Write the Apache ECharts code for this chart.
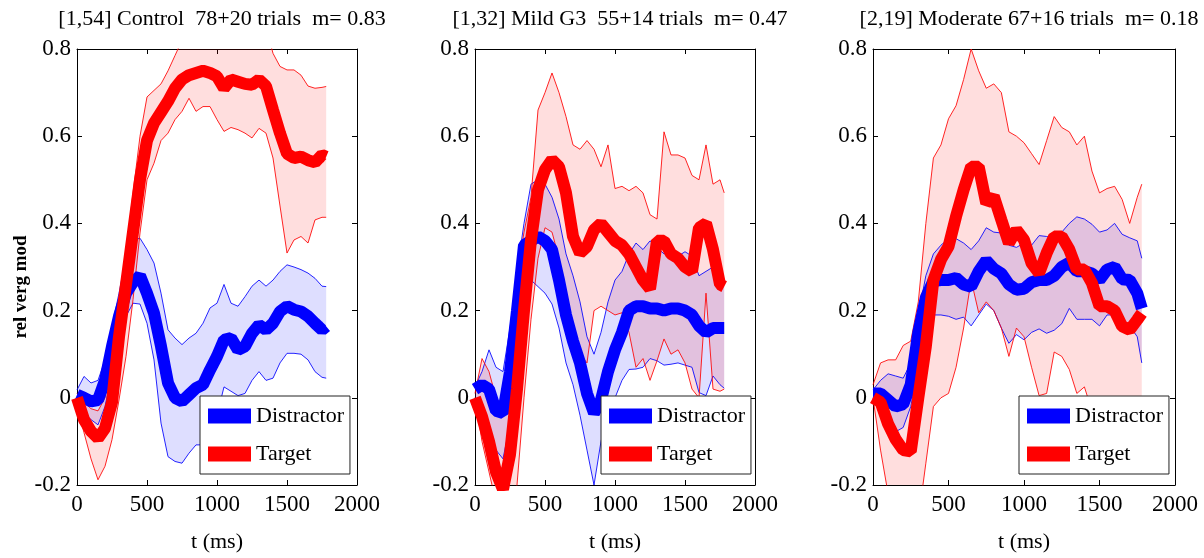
<!DOCTYPE html>
<html><head><meta charset="utf-8">
<script src="https://cdn.jsdelivr.net/npm/echarts@6/dist/echarts.min.js"></script>
<style>html,body{margin:0;padding:0;background:#fff}#c{width:1204px;height:558px}</style>
</head><body><div id="c"></div>
<script>
// ---- data ----
const times = [0,50,100,150,200,250,300,350,400,450,500,550,600,650,700,750,800,850,900,950,1000,1050,1100,1150,1200,1250,1300,1350,1400,1450,1500,1550,1600,1650,1700,1750,1780];
const xTicks = [0,500,1000,1500,2000];
const yTicks = [-0.2,0,0.2,0.4,0.6,0.8];
const titles = ['[1,54] Control  78+20 trials  m= 0.83','[1,32] Mild G3  55+14 trials  m= 0.47','[2,19] Moderate 67+16 trials  m= 0.18'];
const legendNames = ['Distractor','Target'];

// Control
const ctrlDisMean = [0.007,0,-0.008,-0.005,0.04,0.118,0.187,0.24,0.265,0.28,0.24,0.194,0.118,0.034,0,-0.008,0.007,0.022,0.03,0.064,0.095,0.133,0.137,0.11,0.118,0.148,0.167,0.156,0.171,0.198,0.21,0.202,0.198,0.187,0.171,0.156,0.164];
const ctrlDisHi = [0.018,0.049,0.034,0.04,0.087,0.164,0.24,0.324,0.362,0.366,0.34,0.309,0.24,0.156,0.137,0.122,0.137,0.148,0.171,0.206,0.217,0.26,0.217,0.21,0.232,0.256,0.27,0.256,0.27,0.29,0.305,0.3,0.294,0.286,0.274,0.256,0.255];
const ctrlDisLo = [-0.005,-0.035,-0.05,-0.062,-0.02,0.057,0.133,0.187,0.217,0.215,0.171,0.087,-0.058,-0.135,-0.146,-0.15,-0.127,-0.108,-0.108,-0.085,-0.04,0.025,0.015,0.005,0.01,0.04,0.06,0.04,0.045,0.08,0.102,0.102,0.1,0.087,0.06,0.047,0.045];
const ctrlTgtMean = [0,-0.05,-0.077,-0.093,-0.07,-0.01,0.14,0.26,0.38,0.5,0.59,0.63,0.655,0.68,0.71,0.73,0.74,0.745,0.75,0.745,0.737,0.71,0.73,0.725,0.72,0.718,0.73,0.715,0.66,0.607,0.56,0.55,0.553,0.545,0.54,0.557,0.553];
const ctrlTgtHi = [0.01,-0.01,-0.025,-0.03,0,0.1,0.2,0.33,0.47,0.6,0.69,0.705,0.72,0.75,0.785,0.82,0.84,0.85,0.85,0.85,0.85,0.85,0.85,0.85,0.85,0.85,0.85,0.85,0.79,0.76,0.752,0.752,0.74,0.715,0.71,0.712,0.714];
const ctrlTgtLo = [-0.02,-0.08,-0.14,-0.188,-0.157,-0.096,-0.005,0.095,0.225,0.378,0.5,0.538,0.59,0.607,0.638,0.657,0.687,0.657,0.668,0.668,0.638,0.611,0.62,0.615,0.607,0.596,0.618,0.607,0.55,0.44,0.332,0.362,0.37,0.355,0.408,0.414,0.414];

// Mild G3
const mildDisMean = [0.02,0.03,0.02,-0.03,-0.035,0.06,0.2,0.35,0.36,0.37,0.36,0.34,0.27,0.19,0.13,0.08,0.01,-0.035,-0.005,0.06,0.11,0.15,0.2,0.21,0.21,0.205,0.205,0.2,0.205,0.205,0.2,0.19,0.165,0.15,0.16,0.16,0.16];
const mildDisHi = [0.025,0.06,0.11,0.07,0.06,0.16,0.29,0.4,0.49,0.5,0.49,0.46,0.41,0.33,0.28,0.22,0.14,0.1,0.15,0.22,0.27,0.29,0.33,0.355,0.34,0.36,0.345,0.33,0.335,0.325,0.335,0.325,0.28,0.29,0.3,0.27,0.27];
const mildDisLo = [0,-0.03,-0.07,-0.12,-0.14,-0.06,0.06,0.19,0.27,0.255,0.24,0.215,0.16,0.08,0.03,-0.04,-0.12,-0.2,-0.1,-0.035,0,0.04,0.065,0.066,0.07,0.09,0.085,0.075,0.077,0.08,0.075,0.07,0.012,0.005,0.05,0.03,0.022];
const mildTgtMean = [0,-0.043,-0.1,-0.17,-0.21,-0.13,0.02,0.2,0.362,0.477,0.523,0.546,0.53,0.47,0.37,0.332,0.347,0.385,0.4,0.38,0.36,0.35,0.33,0.3,0.27,0.25,0.36,0.36,0.33,0.32,0.3,0.29,0.39,0.4,0.34,0.26,0.255];
const mildTgtHi = [0.01,0.09,0.06,0,-0.02,0.13,0.28,0.38,0.46,0.66,0.7,0.745,0.7,0.645,0.58,0.57,0.59,0.57,0.53,0.58,0.48,0.485,0.475,0.485,0.47,0.42,0.41,0.61,0.557,0.557,0.55,0.51,0.5,0.58,0.49,0.5,0.47];
const mildTgtLo = [0,-0.1,-0.17,-0.24,-0.28,-0.26,-0.2,0,0.18,0.32,0.39,0.38,0.32,0.21,0.16,0.1,0.08,0.2,0.21,0.2,0.19,0.195,0.15,0.07,0.09,0.04,0.085,0.135,0.1,0.11,0.08,0.02,0,0.24,0.02,0.015,0.02];

// Moderate
const modDisMean = [0.01,0.01,-0.005,-0.02,-0.015,0.03,0.15,0.23,0.268,0.27,0.27,0.275,0.26,0.255,0.29,0.315,0.296,0.285,0.26,0.248,0.25,0.265,0.27,0.27,0.28,0.3,0.31,0.29,0.29,0.285,0.27,0.294,0.3,0.272,0.27,0.24,0.205];
const modDisHi = [0.018,0.04,0.055,0.05,0.045,0.08,0.19,0.28,0.33,0.35,0.365,0.365,0.355,0.34,0.36,0.39,0.38,0.378,0.35,0.345,0.355,0.35,0.372,0.37,0.366,0.38,0.4,0.415,0.41,0.398,0.38,0.385,0.4,0.375,0.367,0.36,0.32];
const modDisLo = [0,-0.03,-0.058,-0.078,-0.068,-0.02,0.07,0.15,0.19,0.19,0.187,0.18,0.185,0.165,0.19,0.215,0.2,0.16,0.125,0.145,0.133,0.15,0.158,0.148,0.155,0.17,0.205,0.18,0.18,0.18,0.165,0.19,0.19,0.17,0.165,0.14,0.08];
const modTgtMean = [0,-0.01,-0.06,-0.095,-0.12,-0.123,0,0.118,0.27,0.317,0.347,0.416,0.477,0.53,0.53,0.446,0.462,0.408,0.355,0.385,0.362,0.309,0.286,0.332,0.37,0.37,0.34,0.294,0.294,0.263,0.21,0.21,0.2,0.164,0.156,0.179,0.194];
const modTgtHi = [0.03,0.08,0.087,0.087,0.12,0.13,0.22,0.4,0.55,0.58,0.64,0.67,0.73,0.8,0.75,0.71,0.72,0.7,0.61,0.6,0.585,0.56,0.535,0.59,0.645,0.62,0.61,0.58,0.6,0.52,0.47,0.48,0.485,0.455,0.4,0.46,0.49];
const modTgtLo = [0,-0.12,-0.22,-0.28,-0.3,-0.3,-0.28,-0.15,-0.02,0,0.01,0.07,0.16,0.27,0.195,0.22,0.2,0.16,0.095,0.16,0.14,0.07,0.005,0.01,0.105,0.095,0.065,0.01,0.025,-0.03,-0.06,-0.08,-0.1,-0.1,-0.1,-0.1,-0.1];

// ---- layout / style ----
const grids = [
  {left:77, top:49, width:280, height:436},
  {left:475, top:49, width:280, height:436},
  {left:873, top:49, width:302, height:436}
];
const legendLefts = [200, 601, 1019];
const FONT = 'Liberation Serif';
const BLUE = '#0000ff', RED = '#ff0000';
const BLUE_FILL = 'rgba(0,0,255,0.13)', RED_FILL = 'rgba(255,0,0,0.13)';

const panelData = [
  {dis:[ctrlDisMean,ctrlDisHi,ctrlDisLo], tgt:[ctrlTgtMean,ctrlTgtHi,ctrlTgtLo]},
  {dis:[mildDisMean,mildDisHi,mildDisLo], tgt:[mildTgtMean,mildTgtHi,mildTgtLo]},
  {dis:[modDisMean,modDisHi,modDisLo], tgt:[modTgtMean,modTgtHi,modTgtLo]}
];

const pair = arr => times.map((t,k) => [t, arr[k]]);

const xAxis = [], yAxis = [], series = [];
grids.forEach((g, i) => {
  const common = {gridIndex:i, type:'value', splitLine:{show:false}, axisLine:{show:true, onZero:false, lineStyle:{color:'#000', width:1}}, axisTick:{show:true, inside:true, length:5, lineStyle:{color:'#000'}}};
  xAxis.push(Object.assign({}, common, {position:'bottom', min:xTicks[0], max:xTicks[xTicks.length-1], interval:xTicks[1]-xTicks[0],
    axisLabel:{color:'#000', fontFamily:FONT, fontSize:23, margin:8, showMinLabel:true, showMaxLabel:true, formatter: v => String(v)},
    name:'t (ms)', nameLocation:'middle', nameGap:46, nameTextStyle:{color:'#000', fontFamily:FONT, fontSize:22}}));
  xAxis.push(Object.assign({}, common, {position:'top', min:xTicks[0], max:xTicks[xTicks.length-1], interval:xTicks[1]-xTicks[0], axisLabel:{show:false}}));
  const yl = Object.assign({}, common, {position:'left', min:yTicks[0], max:yTicks[yTicks.length-1], interval:0.2,
    axisLabel:{color:'#000', fontFamily:FONT, fontSize:23, margin:6, showMinLabel:true, showMaxLabel:true,
      formatter: v => Math.abs(v) < 1e-9 ? '0' : (+v).toFixed(1)}});
  if (i === 0) Object.assign(yl, {name:'rel verg mod', nameLocation:'middle', nameRotate:90, nameGap:45,
    nameTextStyle:{color:'#000', fontFamily:FONT, fontSize:19, fontWeight:'bold', padding:[0,40,0,0]}});
  yAxis.push(yl);
  yAxis.push(Object.assign({}, common, {position:'right', min:yTicks[0], max:yTicks[yTicks.length-1], interval:0.2, axisLabel:{show:false}}));

  const xi = i*2, yi = i*2;
  const band = (key, hi, lo, color, fill) => {
    // filled band between lower and upper bounds, drawn through the axis scales
    series.push({type:'custom', name:key+' band '+i, xAxisIndex:xi, yAxisIndex:yi, clip:true, silent:true, z:1,
      data: times.map((t,k) => [t, lo[k], hi[k]]),
      encode:{x:0, y:[1,2]},
      renderItem: (params, api) => {
        if (params.dataIndex !== 0) return null;
        const up = [], dn = [];
        for (let k = 0; k < times.length; k++) {
          up.push(api.coord([times[k], hi[k]]));
          dn.push(api.coord([times[k], lo[k]]));
        }
        const pts = up.concat(dn.reverse());
        const cs = params.coordSys;
        return {type:'polygon', shape:{points:pts}, style:{fill:fill, stroke:null},
          clipPath:{type:'rect', shape:{x:cs.x, y:cs.y, width:cs.width, height:cs.height}}};
      }});
    series.push({type:'line', name:key+' upper '+i, xAxisIndex:xi, yAxisIndex:yi, data:pair(hi),
      symbol:'none', showSymbol:false, lineStyle:{color:color, width:1, opacity:0.85}, silent:true, z:2});
    series.push({type:'line', name:key+' lower '+i, xAxisIndex:xi, yAxisIndex:yi, data:pair(lo),
      symbol:'none', showSymbol:false, lineStyle:{color:color, width:1, opacity:0.85}, silent:true, z:2});
  };
  const d = panelData[i];
  band('dis', d.dis[1], d.dis[2], BLUE, BLUE_FILL);
  band('tgt', d.tgt[1], d.tgt[2], RED, RED_FILL);
  series.push({type:'line', name:legendNames[0], xAxisIndex:xi, yAxisIndex:yi, data:pair(d.dis[0]), symbol:'none', showSymbol:false,
    lineStyle:{color:BLUE, width:12}, itemStyle:{color:BLUE}, z:3});
  series.push({type:'line', name:legendNames[1], xAxisIndex:xi, yAxisIndex:yi, data:pair(d.tgt[0]), symbol:'none', showSymbol:false,
    lineStyle:{color:RED, width:12}, itemStyle:{color:RED}, z:3});
});

const option = {
  animation:false,
  backgroundColor:'#fff',
  title: titles.map((t,i) => ({text:t, left:grids[i].left + grids[i].width/2, top:3, textAlign:'center',
    textStyle:{color:'#000', fontFamily:FONT, fontSize:22, fontWeight:'normal'}})),
  grid: grids.map(g => Object.assign({containLabel:false}, g)),
  legend: legendLefts.map(l => ({left:l, top:396, orient:'vertical', data:legendNames, icon:'rect', itemWidth:43, itemHeight:15, itemGap:16,
    padding:[9,6,9,8], backgroundColor:'#fff', borderColor:'#222', borderWidth:1, borderRadius:0, selectedMode:false, z:10,
    textStyle:{fontFamily:FONT, fontSize:22, color:'#000'}})),
  xAxis, yAxis, series
};
const chart = echarts.init(document.getElementById('c'), null, {renderer:'canvas'});
chart.setOption(option);
</script></body></html>
